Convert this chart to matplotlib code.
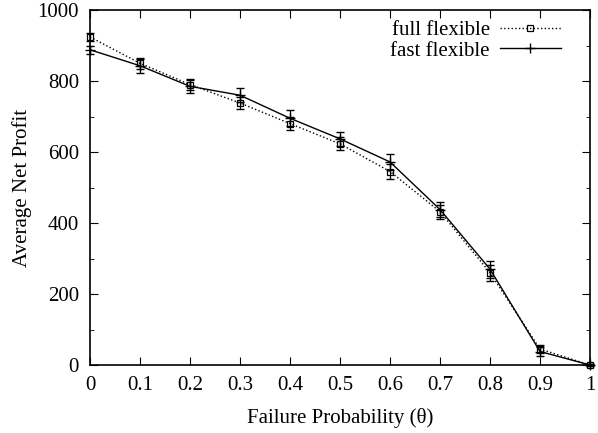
import matplotlib.pyplot as plt
import numpy as np
from matplotlib.ticker import MultipleLocator

plt.rcParams['font.family'] = ['Liberation Serif', 'DejaVu Serif']

# failure probability
theta = [0, 0.1, 0.2, 0.3, 0.4, 0.5, 0.6, 0.7, 0.8, 0.9, 1.0]
theta_labels = ['0', '0.1', '0.2', '0.3', '0.4', '0.5', '0.6', '0.7', '0.8', '0.9', '1']

# full flexible
full_mean = [924, 850, 790, 738, 680, 623, 545, 432, 260, 45, 0]
full_err = [12, 15, 15, 18, 18, 18, 20, 20, 22, 10, 3]

# fast flexible
fast_mean = [888, 843, 785, 760, 695, 637, 572, 438, 270, 38, 0]
fast_err = [12, 20, 18, 20, 22, 20, 22, 22, 24, 12, 3]

fig = plt.figure(figsize=(5.98, 4.33), dpi=100)
ax = fig.add_axes([90 / 598, 1 - 365 / 433, 500 / 598, 355 / 433])

# error bars first, lines with markers on top
ax.errorbar(theta, full_mean, yerr=full_err, fmt='none', ecolor='black',
            capsize=3, elinewidth=0.9, clip_on=False)
ax.errorbar(theta, fast_mean, yerr=fast_err, fmt='none', ecolor='black',
            capsize=3, elinewidth=0.9, clip_on=False)
ax.plot(theta, full_mean, color='black', linestyle=':', linewidth=1,
        marker='s', markersize=5, markerfacecolor='none', markeredgewidth=0.9,
        clip_on=False, label='full flexible')
ax.plot(theta, fast_mean, color='black', linestyle='-', linewidth=1,
        marker='+', markersize=7, markeredgewidth=1, clip_on=False,
        label='fast flexible')

ax.set_xlim(0, 1)
ax.set_ylim(0, 1000)
ax.set_xticks(theta)
ax.set_xticklabels(theta_labels)
ax.yaxis.set_major_locator(MultipleLocator(200))
ax.yaxis.set_minor_locator(MultipleLocator(100))
ax.tick_params(which='both', direction='in', top=True, right=True, labelsize=15, pad=8)
ax.tick_params(which='major', length=6)
ax.tick_params(which='minor', length=3)
for s in ax.spines.values():
    s.set_linewidth(1.2)

ax.set_xlabel('Failure Probability (θ)', fontsize=15, labelpad=9)
ax.set_ylabel('Average Net Profit', fontsize=15, labelpad=4)

leg = ax.legend(loc='upper right', bbox_to_anchor=(0.962, 1.0), frameon=False,
                fontsize=15, markerfirst=False, handlelength=2.9,
                handletextpad=0.5, borderaxespad=0.1, labelspacing=0.05,
                numpoints=1)

fig.savefig('out.png', dpi=100)
